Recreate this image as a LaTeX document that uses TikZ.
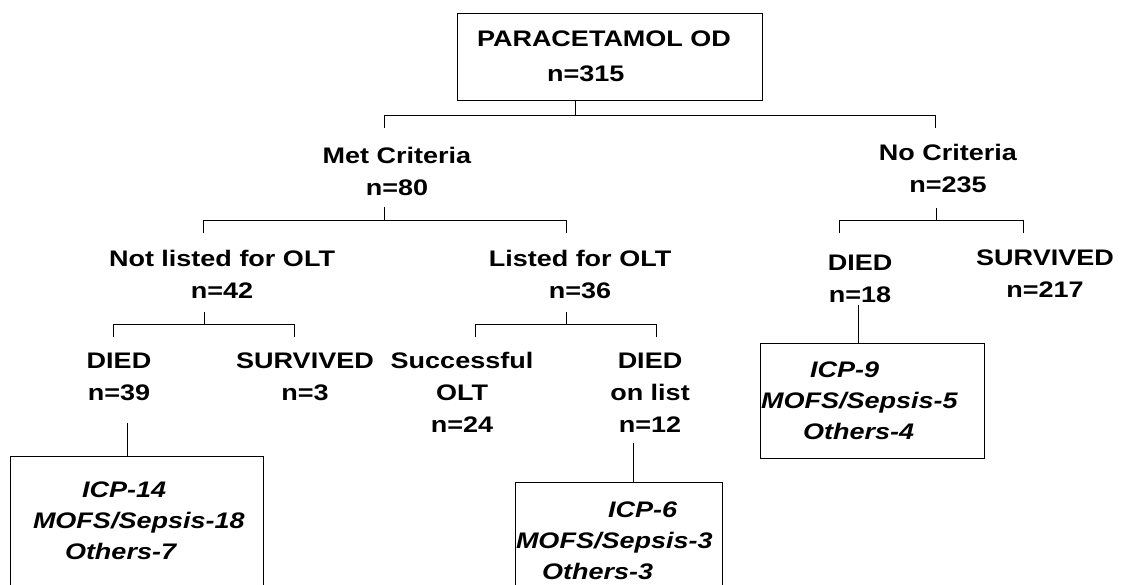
\documentclass[tikz,border=0pt]{standalone}
\usepackage{fontspec}
\setmainfont{Liberation Sans}[FakeStretch=1.2]

\begin{document}
\begin{tikzpicture}[
    x=1pt, y=-1pt,
    line width=0.8pt,
    font=\fontsize{22.5}{32}\selectfont\bfseries,
    lbl/.style={align=center, anchor=base, inner sep=0pt},
    box/.style={draw, line width=1pt, align=left, inner xsep=1pt, inner ysep=0pt},
    cause/.style={box, font=\fontsize{22.5}{31}\selectfont\bfseries\itshape}
]

    % Page size
    \clip (0,0) rectangle (1124,584);

    % Top box
    \node[box, text width=265pt, inner xsep=20pt, minimum height=87pt,
          font=\fontsize{22.5}{35}\selectfont\bfseries] (root) at (609.5,56.5)
          {PARACETAMOL OD\\\hspace*{70pt}n=315};

    % Groups (base = last line)
    \node[lbl] (met) at (397,195) {Met Criteria\\n=80};
    \node[lbl] (nocrit) at (948,192) {No Criteria\\n=235};
    \node[lbl] (notlisted) at (222,298) {Not listed for OLT\\n=42};
    \node[lbl] (listed) at (580,298) {Listed for OLT\\n=36};

    % Outcomes
    \node[lbl] (diedA) at (119,400) {DIED\\n=39};
    \node[lbl] (survA) at (305,400) {SURVIVED\\n=3};
    \node[lbl] (success) at (462,432) {Successful\\OLT\\n=24};
    \node[lbl] (diedlist) at (650,432) {DIED\\on list\\n=12};
    \node[lbl] (diedB) at (860,302) {DIED\\n=18};
    \node[lbl] (survB) at (1045,297) {SURVIVED\\n=217};

    % Causes of death
    \node[cause, text width=251pt, minimum height=130pt] (icpA) at (136.5,521)
          {\hspace*{71pt}ICP-14\\\hspace*{22pt}MOFS/Sepsis-18\\\hspace*{54pt}Others-7};
    \node[cause, text width=205pt, minimum height=118pt] (icpList) at (618.5,541)
          {\hspace*{92pt}ICP-6\\MOFS/Sepsis-3\\\hspace*{26pt}Others-3};
    \node[cause, text width=222pt, minimum height=115pt] (icpB) at (872,400.5)
          {\hspace*{49pt}ICP-9\\MOFS/Sepsis-5\\\hspace*{42pt}Others-4};

    % Connector points
    \coordinate (rootJ) at (575,115);
    \coordinate (metT) at (384,128);
    \coordinate (noT) at (935,128);
    \coordinate (metS) at (384,207);
    \coordinate (metJ) at (384,220);
    \coordinate (notT) at (203,233);
    \coordinate (lstT) at (566,233);
    \coordinate (noS) at (936,208);
    \coordinate (noJ) at (936,220);
    \coordinate (dBT) at (839,233);
    \coordinate (sBT) at (1023,233);
    \coordinate (notS) at (204,312);
    \coordinate (notJ) at (204,324);
    \coordinate (dAT) at (113,337);
    \coordinate (sAT) at (294,337);
    \coordinate (lstS) at (566,312);
    \coordinate (lstJ) at (566,324);
    \coordinate (sucT) at (475,337);
    \coordinate (dlT) at (656,337);
    \coordinate (dAS) at (127,423);
    \coordinate (dlS) at (633,443);
    \coordinate (dBS) at (858,305);

    % Tree lines
    \draw (root.south -| rootJ) -- (rootJ);
    \draw (metT) |- (noT |- rootJ) -- (noT);

    \draw (metS) -- (metJ);
    \draw (notT) |- (lstT |- metJ) -- (lstT);

    \draw (noS) -- (noJ);
    \draw (dBT) |- (sBT |- noJ) -- (sBT);

    \draw (notS) -- (notJ);
    \draw (dAT) |- (sAT |- notJ) -- (sAT);

    \draw (lstS) -- (lstJ);
    \draw (sucT) |- (dlT |- lstJ) -- (dlT);

    \draw (dAS) -- (icpA.north -| dAS);
    \draw (dlS) -- (icpList.north -| dlS);
    \draw (dBS) -- (icpB.north -| dBS);

\end{tikzpicture}
\end{document}
